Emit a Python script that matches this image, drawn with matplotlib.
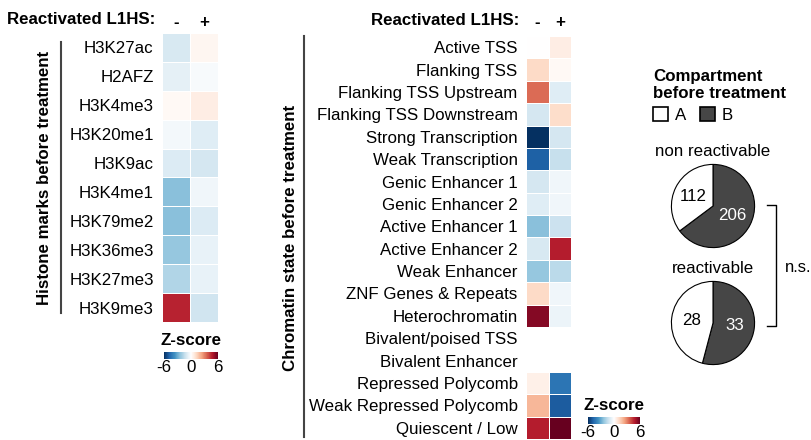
import numpy as np
import matplotlib
matplotlib.use("Agg")
from matplotlib import pyplot as plt
from matplotlib.colors import LinearSegmentedColormap
from matplotlib.patches import Patch
from matplotlib.lines import Line2D

plt.rcParams['font.family'] = ['Liberation Sans', 'DejaVu Sans']
FS = 12.2
plt.rcParams['font.size'] = FS

W, H = 812, 440

# data
histone_marks = ['H3K27ac', 'H2AFZ', 'H3K4me3', 'H3K20me1', 'H3K9ac',
                 'H3K4me1', 'H3K79me2', 'H3K36me3', 'H3K27me3', 'H3K9me3']
histone_neg = [-1.0, -0.7, 0.2, -0.3, -0.9, -2.5, -2.5, -2.3, -1.8, 4.6]
histone_pos = [0.3, -0.2, 0.6, -0.8, -1.1, -0.4, -0.9, -0.6, -0.6, -1.2]

chrom_states = ['Active TSS', 'Flanking TSS', 'Flanking TSS Upstream',
                'Flanking TSS Downstream', 'Strong Transcription',
                'Weak Transcription', 'Genic Enhancer 1', 'Genic Enhancer 2',
                'Active Enhancer 1', 'Active Enhancer 2', 'Weak Enhancer',
                'ZNF Genes & Repeats', 'Heterochromatin', 'Bivalent/poised TSS',
                'Bivalent Enhancer', 'Repressed Polycomb',
                'Weak Repressed Polycomb', 'Quiescent / Low']
chrom_neg = [0.0, 1.2, 3.4, -1.1, -6.0, -4.9, -1.1, -0.8, -2.5, -1.0, -2.3,
             1.2, 5.5, np.nan, np.nan, 0.5, 2.0, 4.7]
chrom_pos = [0.6, 0.2, -0.8, 1.1, -1.1, -1.4, -0.4, -0.4, -1.3, 4.7, -1.6,
             -0.4, -0.5, np.nan, np.nan, -4.4, -5.0, 6.0]

columns = ['-', '+']
compartments = ['A', 'B']
non_reactivable = [112, 206]
reactivable = [28, 33]
comp_colors = ['white', '#464646']

zcmap = LinearSegmentedColormap.from_list('zscore', [
    '#053061', '#2166ac', '#4393c3', '#92c5de', '#d1e5f0', '#ffffff',
    '#fddbc7', '#f4a582', '#d6604d', '#b2182b', '#67001f'])


def px(x0, y0, w, h):
    return [x0 / W, 1 - (y0 + h) / H, w / W, h / H]


def heatmap(ax, rows, neg, pos, head_pad, line_x, line_y, label, label_x):
    z = np.ma.masked_invalid(np.array([neg, pos]).T)
    mesh = ax.pcolormesh(z, cmap=zcmap, vmin=-6, vmax=6,
                         edgecolors='white', linewidth=0.4)
    ax.set_xlim(0, 2)
    ax.set_ylim(len(rows), 0)
    ax.set_yticks(np.arange(len(rows)) + 0.5)
    ax.set_yticklabels(rows)
    ax.set_xticks([0.5, 1.5])
    ax.set_xticklabels(columns, fontweight='bold')
    ax.xaxis.tick_top()
    ax.tick_params(length=0, labelsize=FS)
    ax.tick_params(axis='y', pad=6)
    ax.tick_params(axis='x', pad=head_pad)
    for s in ax.spines.values():
        s.set_visible(False)
    ax.annotate('Reactivated L1HS:', xy=(0, 1), xycoords='axes fraction',
                xytext=(-5, head_pad + 7), textcoords='offset points',
                ha='right', va='center', fontweight='bold', fontsize=FS)
    ax.plot([line_x, line_x], line_y, transform=ax.transAxes, clip_on=False,
            color='#444444', lw=1.5)
    ax.text(label_x, 0.5, label, transform=ax.transAxes, rotation=90,
            ha='center', va='center', fontweight='bold', fontsize=FS)
    return mesh


def zbar(fig, mesh, rect):
    cax = fig.add_axes(rect)
    cb = fig.colorbar(mesh, cax=cax, orientation='horizontal', ticks=[-6, 0, 6])
    cb.outline.set_visible(False)
    cax.tick_params(length=0, labelsize=FS, pad=1)
    cax.set_xticklabels(['-6', '0', '6'])
    cax.set_title('Z-score', fontweight='bold', fontsize=FS, pad=5)


fig = plt.figure(figsize=(W / 100, H / 100), dpi=100)

ax1 = fig.add_axes(px(162, 33, 56, 289))
m1 = heatmap(ax1, histone_marks, histone_neg, histone_pos, 2.5,
             -1.80, [0.031, 0.969], 'Histone marks before treatment', -2.09)
zbar(fig, m1, px(164, 352, 54, 7))

ax2 = fig.add_axes(px(526, 36, 45, 403))
m2 = heatmap(ax2, chrom_states, chrom_neg, chrom_pos, 4.5,
             -4.93, [0.005, 1.0], 'Chromatin state before treatment', -5.24)
zbar(fig, m2, px(588, 417, 52, 7))

# pies
for counts, title, top in [(non_reactivable, 'non reactivable', 164),
                           (reactivable, 'reactivable', 281)]:
    ax = fig.add_axes(px(671, top, 84, 84))
    wedges, texts = ax.pie(counts[::-1], colors=comp_colors[::-1],
                           labels=[str(c) for c in counts[::-1]],
                           labeldistance=0.52, startangle=90, counterclock=False,
                           wedgeprops=dict(edgecolor='black', linewidth=0.8),
                           textprops=dict(fontsize=FS, ha='center', va='center'))
    texts[0].set_color('white')
    ax.set_xlim(-1.01, 1.01)
    ax.set_ylim(-1.01, 1.01)
    ax.set_aspect('equal')
    ax.set_title(title, fontsize=FS, pad=6)

handles = [Patch(facecolor=c, edgecolor='black', linewidth=1.2) for c in comp_colors]
leg = fig.legend(handles, compartments, loc='upper left',
                 bbox_to_anchor=(653 / W, 1 - 69 / H), ncol=2, frameon=False,
                 borderpad=0, borderaxespad=0,
                 title='Compartment\nbefore treatment', handlelength=0.9,
                 handleheight=0.9, handletextpad=0.4, columnspacing=0.8,
                 fontsize=FS, title_fontproperties={'weight': 'bold', 'size': FS})
leg._legend_box.align = 'left'
leg._legend_box.sep = 4

fig.add_artist(Line2D(np.array([767, 776, 776, 767]) / W,
                      1 - np.array([205, 205, 326, 326]) / H,
                      color='black', lw=1.0))
fig.text(785 / W, 1 - 267 / H, 'n.s.', fontsize=12, va='center', ha='left')

fig.savefig('out.png', dpi=100)
